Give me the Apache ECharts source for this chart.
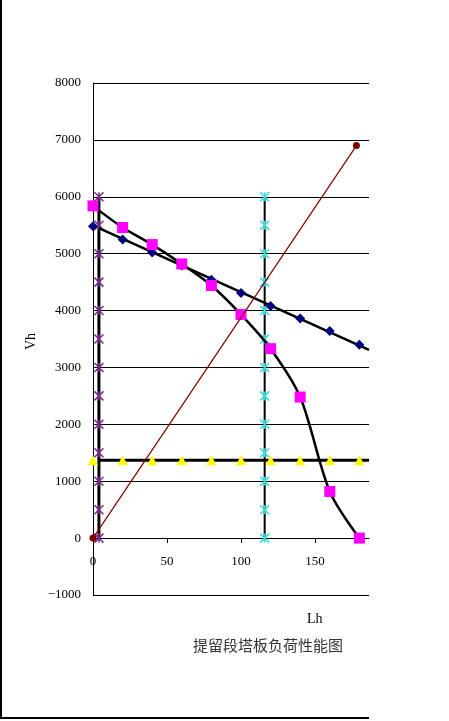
<!DOCTYPE html><html><head><meta charset="utf-8">
<script src="https://cdn.jsdelivr.net/npm/echarts@6/dist/echarts.min.js"></script>
<style>html,body{margin:0;padding:0;background:#fff}#c{width:449px;height:721px}</style></head>
<body><div id="c"></div><script>
const xs=[0,20,40,60,80,100,120,140,160,180];
const diamondY=[5480,5250,5020,4790,4540,4310,4080,3860,3640,3400];
const squareY=[5840,5460,5160,4820,4440,3930,3330,2480,820,0];
const triY=[1370,1370,1370,1370,1370,1370,1370,1370,1370,1370];
const limY=[0,500,1000,1500,2000,2500,3000,3500,4000,4500,5000,5500,6000];
const leftX=4, rightX=116;
const opX=[0,178], opY=[0,6900];
const ch=echarts.init(document.getElementById('c'));
const f='"Liberation Serif",serif';
ch.setOption({animation:false,
grid:{left:93,top:83,width:276,height:512},
xAxis:{type:'value',min:0,max:186.5,interval:50,offset:-57,splitLine:{show:false},
 axisLine:{onZero:false,lineStyle:{color:'#000'}},axisTick:{inside:false,length:5,lineStyle:{color:'#000'}},
 axisLabel:{color:'#000',fontFamily:f,fontSize:13,showMaxLabel:false,margin:17}},
yAxis:{type:'value',min:-1000,max:8000,interval:1000,axisLine:{show:true,onZero:false,lineStyle:{color:'#000'}},
 axisTick:{show:true,inside:true,lineStyle:{color:'#000'}},splitLine:{lineStyle:{color:'#000'}},
 axisLabel:{color:'#000',fontFamily:f,fontSize:13,margin:12,formatter:v=>v<0?'\u2212'+(-v):String(v)}},
series:[
 {type:'line',data:[[4,1370],[186.5,1370]],symbol:'none',lineStyle:{color:'#000',width:3},z:2},
 {type:'line',data:xs.map((x,i)=>[x,triY[i]]),symbol:'triangle',symbolSize:10,itemStyle:{color:'#ffff00'},lineStyle:{width:0},z:5},
 {type:'line',data:limY.map(y=>[leftX,y]),symbol:'path://M0,0L10,10M10,0L0,10M5,0L5,10',symbolSize:9,itemStyle:{color:'#7b2a8f',borderColor:'#7b2a8f',borderWidth:1.5},lineStyle:{color:'#000',width:3},z:4},
 {type:'line',data:limY.map(y=>[rightX,y]),symbol:'path://M0,0L10,10M10,0L0,10M5,0L5,10',symbolSize:9,itemStyle:{color:'#33dddd',borderColor:'#33dddd',borderWidth:1.5},lineStyle:{color:'#000',width:2},z:4},
 {type:'line',data:[[4,5450],[186.5,3310]],symbol:'none',lineStyle:{color:'#000',width:2.5},z:6},
 {type:'line',data:xs.map((x,i)=>[x,diamondY[i]]),symbol:'diamond',symbolSize:10,itemStyle:{color:'#000080'},lineStyle:{width:0},z:6},
 {type:'line',data:xs.map((x,i)=>[x,squareY[i]]),smooth:0.3,symbol:'rect',symbolSize:11,itemStyle:{color:'#ff00ff'},lineStyle:{color:'#000',width:2.5},z:7},
 {type:'line',data:opX.map((x,i)=>[x,opY[i]]),symbol:'circle',symbolSize:7,itemStyle:{color:'#800000'},lineStyle:{color:'#800000',width:1.2},z:8}
],
graphic:[
 {type:'text',left:24,top:333,rotation:Math.PI/2,style:{text:'Vh',font:'14px '+f,fill:'#000'}},
 {type:'text',left:307,top:612,style:{text:'Lh',font:'14px '+f,fill:'#000'}},
 {type:'text',left:193,top:638,style:{text:'提留段塔板负荷性能图',font:'15px "Noto Sans CJK SC"',fill:'#333'}},
 {type:'line',shape:{x1:1,y1:0,x2:1,y2:719},style:{stroke:'#000',lineWidth:2}},
 {type:'line',shape:{x1:0,y1:718,x2:369,y2:718},style:{stroke:'#000',lineWidth:2}}
]});
</script></body></html>
